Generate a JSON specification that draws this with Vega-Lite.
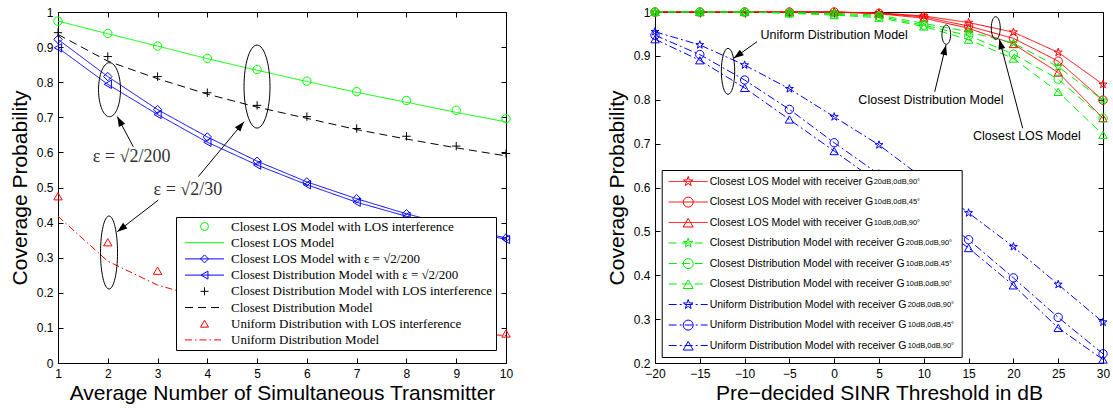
{
"$schema": "https://vega.github.io/schema/vega-lite/v6.json",
"padding": {"left": 8, "top": 5, "right": 0, "bottom": 0},
"spacing": 91,
"background": "white",
"datasets": {
"left": [
{"s":"Closest LOS Model with LOS interference","x":1,"y":0.974},{"s":"Closest LOS Model with LOS interference","x":2,"y":0.939},{"s":"Closest LOS Model with LOS interference","x":3,"y":0.903},{"s":"Closest LOS Model with LOS interference","x":4,"y":0.868},{"s":"Closest LOS Model with LOS interference","x":5,"y":0.836},{"s":"Closest LOS Model with LOS interference","x":6,"y":0.803},{"s":"Closest LOS Model with LOS interference","x":7,"y":0.773},{"s":"Closest LOS Model with LOS interference","x":8,"y":0.748},{"s":"Closest LOS Model with LOS interference","x":9,"y":0.720},{"s":"Closest LOS Model with LOS interference","x":10,"y":0.696},
{"s":"Closest LOS Model","x":1,"y":0.974},{"s":"Closest LOS Model","x":2,"y":0.938},{"s":"Closest LOS Model","x":3,"y":0.903},{"s":"Closest LOS Model","x":4,"y":0.867},{"s":"Closest LOS Model","x":5,"y":0.834},{"s":"Closest LOS Model","x":6,"y":0.802},{"s":"Closest LOS Model","x":7,"y":0.771},{"s":"Closest LOS Model","x":8,"y":0.743},{"s":"Closest LOS Model","x":9,"y":0.714},{"s":"Closest LOS Model","x":10,"y":0.687},
{"s":"Closest LOS Model with ε = √2/200","x":1,"y":0.922},{"s":"Closest LOS Model with ε = √2/200","x":2,"y":0.816},{"s":"Closest LOS Model with ε = √2/200","x":3,"y":0.722},{"s":"Closest LOS Model with ε = √2/200","x":4,"y":0.644},{"s":"Closest LOS Model with ε = √2/200","x":5,"y":0.575},{"s":"Closest LOS Model with ε = √2/200","x":6,"y":0.516},{"s":"Closest LOS Model with ε = √2/200","x":7,"y":0.468},{"s":"Closest LOS Model with ε = √2/200","x":8,"y":0.425},{"s":"Closest LOS Model with ε = √2/200","x":9,"y":0.389},{"s":"Closest LOS Model with ε = √2/200","x":10,"y":0.356},
{"s":"Closest Distribution Model with ε = √2/200","x":1,"y":0.898},{"s":"Closest Distribution Model with ε = √2/200","x":2,"y":0.794},{"s":"Closest Distribution Model with ε = √2/200","x":3,"y":0.708},{"s":"Closest Distribution Model with ε = √2/200","x":4,"y":0.629},{"s":"Closest Distribution Model with ε = √2/200","x":5,"y":0.564},{"s":"Closest Distribution Model with ε = √2/200","x":6,"y":0.508},{"s":"Closest Distribution Model with ε = √2/200","x":7,"y":0.458},{"s":"Closest Distribution Model with ε = √2/200","x":8,"y":0.418},{"s":"Closest Distribution Model with ε = √2/200","x":9,"y":0.384},{"s":"Closest Distribution Model with ε = √2/200","x":10,"y":0.352},
{"s":"Closest Distribution Model with LOS interference","x":1,"y":0.941},{"s":"Closest Distribution Model with LOS interference","x":2,"y":0.873},{"s":"Closest Distribution Model with LOS interference","x":3,"y":0.816},{"s":"Closest Distribution Model with LOS interference","x":4,"y":0.770},{"s":"Closest Distribution Model with LOS interference","x":5,"y":0.734},{"s":"Closest Distribution Model with LOS interference","x":6,"y":0.702},{"s":"Closest Distribution Model with LOS interference","x":7,"y":0.668},{"s":"Closest Distribution Model with LOS interference","x":8,"y":0.646},{"s":"Closest Distribution Model with LOS interference","x":9,"y":0.618},{"s":"Closest Distribution Model with LOS interference","x":10,"y":0.597},
{"s":"Closest Distribution Model","x":1,"y":0.936},{"s":"Closest Distribution Model","x":2,"y":0.860},{"s":"Closest Distribution Model","x":3,"y":0.810},{"s":"Closest Distribution Model","x":4,"y":0.766},{"s":"Closest Distribution Model","x":5,"y":0.729},{"s":"Closest Distribution Model","x":6,"y":0.697},{"s":"Closest Distribution Model","x":7,"y":0.665},{"s":"Closest Distribution Model","x":8,"y":0.638},{"s":"Closest Distribution Model","x":9,"y":0.613},{"s":"Closest Distribution Model","x":10,"y":0.590},
{"s":"Uniform Distribution with LOS interference","x":1,"y":0.475},{"s":"Uniform Distribution with LOS interference","x":2,"y":0.344},{"s":"Uniform Distribution with LOS interference","x":3,"y":0.263},{"s":"Uniform Distribution with LOS interference","x":4,"y":0.215},{"s":"Uniform Distribution with LOS interference","x":5,"y":0.180},{"s":"Uniform Distribution with LOS interference","x":6,"y":0.155},{"s":"Uniform Distribution with LOS interference","x":7,"y":0.135},{"s":"Uniform Distribution with LOS interference","x":8,"y":0.118},{"s":"Uniform Distribution with LOS interference","x":9,"y":0.100},{"s":"Uniform Distribution with LOS interference","x":10,"y":0.084},
{"s":"Uniform Distribution Model","x":1,"y":0.418},{"s":"Uniform Distribution Model","x":2,"y":0.290},{"s":"Uniform Distribution Model","x":3,"y":0.222},{"s":"Uniform Distribution Model","x":4,"y":0.182},{"s":"Uniform Distribution Model","x":5,"y":0.152},{"s":"Uniform Distribution Model","x":6,"y":0.130},{"s":"Uniform Distribution Model","x":7,"y":0.113},{"s":"Uniform Distribution Model","x":8,"y":0.100},{"s":"Uniform Distribution Model","x":9,"y":0.088},{"s":"Uniform Distribution Model","x":10,"y":0.078}
],
"right": [
{"s":"Closest LOS Model with receiver G|20dB,0dB,90°","x":-20,"y":1},{"s":"Closest LOS Model with receiver G|20dB,0dB,90°","x":-15,"y":1},{"s":"Closest LOS Model with receiver G|20dB,0dB,90°","x":-10,"y":1},{"s":"Closest LOS Model with receiver G|20dB,0dB,90°","x":-5,"y":1},{"s":"Closest LOS Model with receiver G|20dB,0dB,90°","x":0,"y":1},{"s":"Closest LOS Model with receiver G|20dB,0dB,90°","x":5,"y":0.998},{"s":"Closest LOS Model with receiver G|20dB,0dB,90°","x":10,"y":0.991},{"s":"Closest LOS Model with receiver G|20dB,0dB,90°","x":15,"y":0.976},{"s":"Closest LOS Model with receiver G|20dB,0dB,90°","x":20,"y":0.954},{"s":"Closest LOS Model with receiver G|20dB,0dB,90°","x":25,"y":0.908},{"s":"Closest LOS Model with receiver G|20dB,0dB,90°","x":30,"y":0.835},
{"s":"Closest LOS Model with receiver G|10dB,0dB,45°","x":-20,"y":1},{"s":"Closest LOS Model with receiver G|10dB,0dB,45°","x":-15,"y":1},{"s":"Closest LOS Model with receiver G|10dB,0dB,45°","x":-10,"y":1},{"s":"Closest LOS Model with receiver G|10dB,0dB,45°","x":-5,"y":1},{"s":"Closest LOS Model with receiver G|10dB,0dB,45°","x":0,"y":1},{"s":"Closest LOS Model with receiver G|10dB,0dB,45°","x":5,"y":0.997},{"s":"Closest LOS Model with receiver G|10dB,0dB,45°","x":10,"y":0.989},{"s":"Closest LOS Model with receiver G|10dB,0dB,45°","x":15,"y":0.968},{"s":"Closest LOS Model with receiver G|10dB,0dB,45°","x":20,"y":0.940},{"s":"Closest LOS Model with receiver G|10dB,0dB,45°","x":25,"y":0.888},{"s":"Closest LOS Model with receiver G|10dB,0dB,45°","x":30,"y":0.799},
{"s":"Closest LOS Model with receiver G|10dB,0dB,90°","x":-20,"y":1},{"s":"Closest LOS Model with receiver G|10dB,0dB,90°","x":-15,"y":1},{"s":"Closest LOS Model with receiver G|10dB,0dB,90°","x":-10,"y":1},{"s":"Closest LOS Model with receiver G|10dB,0dB,90°","x":-5,"y":1},{"s":"Closest LOS Model with receiver G|10dB,0dB,90°","x":0,"y":1},{"s":"Closest LOS Model with receiver G|10dB,0dB,90°","x":5,"y":0.996},{"s":"Closest LOS Model with receiver G|10dB,0dB,90°","x":10,"y":0.986},{"s":"Closest LOS Model with receiver G|10dB,0dB,90°","x":15,"y":0.963},{"s":"Closest LOS Model with receiver G|10dB,0dB,90°","x":20,"y":0.927},{"s":"Closest LOS Model with receiver G|10dB,0dB,90°","x":25,"y":0.862},{"s":"Closest LOS Model with receiver G|10dB,0dB,90°","x":30,"y":0.758},
{"s":"Closest Distribution Model with receiver G|20dB,0dB,90°","x":-20,"y":1},{"s":"Closest Distribution Model with receiver G|20dB,0dB,90°","x":-15,"y":1},{"s":"Closest Distribution Model with receiver G|20dB,0dB,90°","x":-10,"y":1},{"s":"Closest Distribution Model with receiver G|20dB,0dB,90°","x":-5,"y":0.999},{"s":"Closest Distribution Model with receiver G|20dB,0dB,90°","x":0,"y":0.997},{"s":"Closest Distribution Model with receiver G|20dB,0dB,90°","x":5,"y":0.993},{"s":"Closest Distribution Model with receiver G|20dB,0dB,90°","x":10,"y":0.974},{"s":"Closest Distribution Model with receiver G|20dB,0dB,90°","x":15,"y":0.955},{"s":"Closest Distribution Model with receiver G|20dB,0dB,90°","x":20,"y":0.929},{"s":"Closest Distribution Model with receiver G|20dB,0dB,90°","x":25,"y":0.875},{"s":"Closest Distribution Model with receiver G|20dB,0dB,90°","x":30,"y":0.799},
{"s":"Closest Distribution Model with receiver G|10dB,0dB,45°","x":-20,"y":1},{"s":"Closest Distribution Model with receiver G|10dB,0dB,45°","x":-15,"y":1},{"s":"Closest Distribution Model with receiver G|10dB,0dB,45°","x":-10,"y":1},{"s":"Closest Distribution Model with receiver G|10dB,0dB,45°","x":-5,"y":0.998},{"s":"Closest Distribution Model with receiver G|10dB,0dB,45°","x":0,"y":0.995},{"s":"Closest Distribution Model with receiver G|10dB,0dB,45°","x":5,"y":0.990},{"s":"Closest Distribution Model with receiver G|10dB,0dB,45°","x":10,"y":0.970},{"s":"Closest Distribution Model with receiver G|10dB,0dB,45°","x":15,"y":0.946},{"s":"Closest Distribution Model with receiver G|10dB,0dB,45°","x":20,"y":0.904},{"s":"Closest Distribution Model with receiver G|10dB,0dB,45°","x":25,"y":0.847},{"s":"Closest Distribution Model with receiver G|10dB,0dB,45°","x":30,"y":0.758},
{"s":"Closest Distribution Model with receiver G|10dB,0dB,90°","x":-20,"y":1},{"s":"Closest Distribution Model with receiver G|10dB,0dB,90°","x":-15,"y":1},{"s":"Closest Distribution Model with receiver G|10dB,0dB,90°","x":-10,"y":1},{"s":"Closest Distribution Model with receiver G|10dB,0dB,90°","x":-5,"y":0.997},{"s":"Closest Distribution Model with receiver G|10dB,0dB,90°","x":0,"y":0.993},{"s":"Closest Distribution Model with receiver G|10dB,0dB,90°","x":5,"y":0.987},{"s":"Closest Distribution Model with receiver G|10dB,0dB,90°","x":10,"y":0.967},{"s":"Closest Distribution Model with receiver G|10dB,0dB,90°","x":15,"y":0.937},{"s":"Closest Distribution Model with receiver G|10dB,0dB,90°","x":20,"y":0.894},{"s":"Closest Distribution Model with receiver G|10dB,0dB,90°","x":25,"y":0.818},{"s":"Closest Distribution Model with receiver G|10dB,0dB,90°","x":30,"y":0.720},
{"s":"Uniform Distribution Model with receiver G|20dB,0dB,90°","x":-20,"y":0.955},{"s":"Uniform Distribution Model with receiver G|20dB,0dB,90°","x":-15,"y":0.925},{"s":"Uniform Distribution Model with receiver G|20dB,0dB,90°","x":-10,"y":0.879},{"s":"Uniform Distribution Model with receiver G|20dB,0dB,90°","x":-5,"y":0.825},{"s":"Uniform Distribution Model with receiver G|20dB,0dB,90°","x":0,"y":0.761},{"s":"Uniform Distribution Model with receiver G|20dB,0dB,90°","x":5,"y":0.697},{"s":"Uniform Distribution Model with receiver G|20dB,0dB,90°","x":10,"y":0.620},{"s":"Uniform Distribution Model with receiver G|20dB,0dB,90°","x":15,"y":0.542},{"s":"Uniform Distribution Model with receiver G|20dB,0dB,90°","x":20,"y":0.465},{"s":"Uniform Distribution Model with receiver G|20dB,0dB,90°","x":25,"y":0.379},{"s":"Uniform Distribution Model with receiver G|20dB,0dB,90°","x":30,"y":0.293},
{"s":"Uniform Distribution Model with receiver G|10dB,0dB,45°","x":-20,"y":0.947},{"s":"Uniform Distribution Model with receiver G|10dB,0dB,45°","x":-15,"y":0.903},{"s":"Uniform Distribution Model with receiver G|10dB,0dB,45°","x":-10,"y":0.845},{"s":"Uniform Distribution Model with receiver G|10dB,0dB,45°","x":-5,"y":0.778},{"s":"Uniform Distribution Model with receiver G|10dB,0dB,45°","x":0,"y":0.702},{"s":"Uniform Distribution Model with receiver G|10dB,0dB,45°","x":5,"y":0.630},{"s":"Uniform Distribution Model with receiver G|10dB,0dB,45°","x":10,"y":0.555},{"s":"Uniform Distribution Model with receiver G|10dB,0dB,45°","x":15,"y":0.481},{"s":"Uniform Distribution Model with receiver G|10dB,0dB,45°","x":20,"y":0.394},{"s":"Uniform Distribution Model with receiver G|10dB,0dB,45°","x":25,"y":0.304},{"s":"Uniform Distribution Model with receiver G|10dB,0dB,45°","x":30,"y":0.221},
{"s":"Uniform Distribution Model with receiver G|10dB,0dB,90°","x":-20,"y":0.938},{"s":"Uniform Distribution Model with receiver G|10dB,0dB,90°","x":-15,"y":0.890},{"s":"Uniform Distribution Model with receiver G|10dB,0dB,90°","x":-10,"y":0.827},{"s":"Uniform Distribution Model with receiver G|10dB,0dB,90°","x":-5,"y":0.755},{"s":"Uniform Distribution Model with receiver G|10dB,0dB,90°","x":0,"y":0.683},{"s":"Uniform Distribution Model with receiver G|10dB,0dB,90°","x":5,"y":0.610},{"s":"Uniform Distribution Model with receiver G|10dB,0dB,90°","x":10,"y":0.535},{"s":"Uniform Distribution Model with receiver G|10dB,0dB,90°","x":15,"y":0.462},{"s":"Uniform Distribution Model with receiver G|10dB,0dB,90°","x":20,"y":0.377},{"s":"Uniform Distribution Model with receiver G|10dB,0dB,90°","x":25,"y":0.280},{"s":"Uniform Distribution Model with receiver G|10dB,0dB,90°","x":30,"y":0.208}
]
},
"hconcat": [
{
"width": 448, "height": 351,
"resolve": {"scale": {"stroke": "independent", "strokeDash": "independent", "shape": "independent"}, "axis": {"x": "independent", "y": "independent"}},
"layer": [
{
"data": {"name": "left"},
"transform": [{"filter": {"field": "s", "oneOf": ["Closest LOS Model", "Closest LOS Model with ε = √2/200", "Closest Distribution Model with ε = √2/200", "Closest Distribution Model", "Uniform Distribution Model"]}}],
"mark": {"type": "line", "strokeWidth": 1},
"encoding": {
"x": {"field": "x", "type": "quantitative", "scale": {"domain": [1, 10], "nice": false, "zero": false}, "axis": {"orient": "bottom", "values": [1,2,3,4,5,6,7,8,9,10], "title": "Average Number of Simultaneous Transmitter"}},
"y": {"field": "y", "type": "quantitative", "scale": {"domain": [0, 1], "nice": false, "zero": false}, "axis": {"orient": "left", "values": [0,0.1,0.2,0.3,0.4,0.5,0.6,0.7,0.8,0.9,1], "format": "~g", "title": "Coverage Probability"}},
"stroke": {"field": "s", "type": "nominal",
"scale": {"domain": ["Closest LOS Model with LOS interference", "Closest LOS Model", "Closest LOS Model with ε = √2/200", "Closest Distribution Model with ε = √2/200", "Closest Distribution Model with LOS interference", "Closest Distribution Model", "Uniform Distribution with LOS interference", "Uniform Distribution Model"], "range": ["transparent", "#00ff00", "#0000ff", "#0000ff", "transparent", "#000000", "transparent", "#ff0000"]},
"legend": {"orient": "none", "legendX": 118, "legendY": 205, "title": null, "symbolType": "M-4.875,0H4.875", "symbolSize": 64, "symbolStrokeWidth": 1, "symbolOffset": 19, "labelOffset": 20, "labelFont": "Liberation Serif", "labelFontSize": 13, "labelColor": "#000000", "labelLimit": 500, "rowPadding": 2.2, "padding": 3, "fillColor": "#ffffff", "strokeColor": "#000000"}},
"strokeDash": {"field": "s", "type": "nominal",
"scale": {"domain": ["Closest LOS Model with LOS interference", "Closest LOS Model", "Closest LOS Model with ε = √2/200", "Closest Distribution Model with ε = √2/200", "Closest Distribution Model with LOS interference", "Closest Distribution Model", "Uniform Distribution with LOS interference", "Uniform Distribution Model"], "range": [[1,0],[1,0],[1,0],[1,0],[1,0],[8,5],[1,0],[7,3,1.5,3]]},
"legend": {"orient": "none", "legendX": 118, "legendY": 205, "title": null, "symbolType": "M-4.875,0H4.875", "symbolSize": 64, "symbolStrokeWidth": 1, "symbolOffset": 19, "labelOffset": 20, "labelFont": "Liberation Serif", "labelFontSize": 13, "labelColor": "#000000", "labelLimit": 500, "rowPadding": 2.2, "padding": 3, "fillColor": "#ffffff", "strokeColor": "#000000"}}
}
},
{
"data": {"name": "left"},
"transform": [{"filter": {"field": "s", "oneOf": ["Closest LOS Model with LOS interference", "Closest LOS Model with ε = √2/200", "Closest Distribution Model with ε = √2/200", "Closest Distribution Model with LOS interference", "Uniform Distribution with LOS interference"]}}],
"mark": {"type": "point", "filled": false, "size": 70, "strokeWidth": 1, "opacity": 1},
"encoding": {
"x": {"field": "x", "type": "quantitative", "axis": {"orient": "top", "values": [1,2,3,4,5,6,7,8,9,10], "labels": false, "title": null}},
"y": {"field": "y", "type": "quantitative", "axis": {"orient": "right", "values": [0,0.1,0.2,0.3,0.4,0.5,0.6,0.7,0.8,0.9,1], "labels": false, "title": null}},
"shape": {"field": "s", "type": "nominal",
"scale": {"domain": ["Closest LOS Model with LOS interference", "Closest LOS Model", "Closest LOS Model with ε = √2/200", "Closest Distribution Model with ε = √2/200", "Closest Distribution Model with LOS interference", "Closest Distribution Model", "Uniform Distribution with LOS interference", "Uniform Distribution Model"], "range": ["circle", "circle", "diamond", "triangle-left", "M-1,0H1M0,-1V1", "circle", "triangle-up", "circle"]},
"legend": {"orient": "none", "legendX": 118, "legendY": 205, "title": null, "symbolSize": 64, "symbolStrokeWidth": 1, "symbolOffset": 19, "labelOffset": 20, "labelFont": "Liberation Serif", "labelFontSize": 13, "labelColor": "transparent", "labelLimit": 500, "rowPadding": 2.2, "padding": 3, "encode": {"symbols": {"fill": {"value": "transparent"}}}}},
"stroke": {"field": "s", "type": "nominal",
"scale": {"domain": ["Closest LOS Model with LOS interference", "Closest LOS Model", "Closest LOS Model with ε = √2/200", "Closest Distribution Model with ε = √2/200", "Closest Distribution Model with LOS interference", "Closest Distribution Model", "Uniform Distribution with LOS interference", "Uniform Distribution Model"], "range": ["#00ff00", "transparent", "#0000ff", "#0000ff", "#000000", "transparent", "#ff0000", "transparent"]},
"legend": {"orient": "none", "legendX": 118, "legendY": 205, "title": null, "symbolSize": 64, "symbolStrokeWidth": 1, "symbolOffset": 19, "labelOffset": 20, "labelFont": "Liberation Serif", "labelFontSize": 13, "labelColor": "transparent", "labelLimit": 500, "rowPadding": 2.2, "padding": 3, "encode": {"symbols": {"fill": {"value": "transparent"}}}}}
}
},
{
"data": {"values": [{"x": 2.035, "y": 0.7786}]},
"mark": {"type": "point", "shape": "M0.407,0C0.407,0.552 0.225,1 0,1C-0.225,1 -0.407,0.552 -0.407,0C-0.407,-0.552 -0.225,-1 0,-1C0.225,-1 0.407,-0.552 0.407,0Z", "size": 2916, "filled": false, "stroke": "#000000", "strokeWidth": 1, "opacity": 1},
"encoding": {"x": {"field": "x", "type": "quantitative", "axis": null}, "y": {"field": "y", "type": "quantitative", "axis": null}}
},
{
"data": {"values": [{"x": 4.998, "y": 0.7875}]},
"mark": {"type": "point", "shape": "M0.313,0C0.313,0.552 0.173,1 0,1C-0.173,1 -0.313,0.552 -0.313,0C-0.313,-0.552 -0.173,-1 0,-1C0.173,-1 0.313,-0.552 0.313,0Z", "size": 6889, "filled": false, "stroke": "#000000", "strokeWidth": 1, "opacity": 1},
"encoding": {"x": {"field": "x", "type": "quantitative", "axis": null}, "y": {"field": "y", "type": "quantitative", "axis": null}}
},
{
"data": {"values": [{"x": 2.025, "y": 0.3148}]},
"mark": {"type": "point", "shape": "M0.233,0C0.233,0.552 0.129,1 0,1C-0.129,1 -0.233,0.552 -0.233,0C-0.233,-0.552 -0.129,-1 0,-1C0.129,-1 0.233,-0.552 0.233,0Z", "size": 5329, "filled": false, "stroke": "#000000", "strokeWidth": 1, "opacity": 1},
"encoding": {"x": {"field": "x", "type": "quantitative", "axis": null}, "y": {"field": "y", "type": "quantitative", "axis": null}}
},
{
"data": {"values": [{"x": 2.513, "y": 0.616, "x2": 2.191, "y2": 0.702}, {"x": 3.818, "y": 0.531, "x2": 4.737, "y2": 0.6875}, {"x": 3.015, "y": 0.464, "x2": 2.191, "y2": 0.374}]},
"mark": {"type": "rule", "stroke": "#000000", "strokeWidth": 1},
"encoding": {"x": {"field": "x", "type": "quantitative", "axis": null}, "y": {"field": "y", "type": "quantitative", "axis": null}, "x2": {"field": "x2"}, "y2": {"field": "y2"}}
},
{
"data": {"values": [{"x": 2.191, "y": 0.702}]},
"mark": {"type": "point", "shape": "M0,0L-0.35,1L0.35,1Z", "size": 400, "filled": true, "color": "#000000", "opacity": 1, "angle": -28},
"encoding": {"x": {"field": "x", "type": "quantitative", "axis": null}, "y": {"field": "y", "type": "quantitative", "axis": null}}
},
{
"data": {"values": [{"x": 4.737, "y": 0.6875}]},
"mark": {"type": "point", "shape": "M0,0L-0.35,1L0.35,1Z", "size": 400, "filled": true, "color": "#000000", "opacity": 1, "angle": 39.7},
"encoding": {"x": {"field": "x", "type": "quantitative", "axis": null}, "y": {"field": "y", "type": "quantitative", "axis": null}}
},
{
"data": {"values": [{"x": 2.191, "y": 0.374}]},
"mark": {"type": "point", "shape": "M0,0L-0.35,1L0.35,1Z", "size": 400, "filled": true, "color": "#000000", "opacity": 1, "angle": -127.7},
"encoding": {"x": {"field": "x", "type": "quantitative", "axis": null}, "y": {"field": "y", "type": "quantitative", "axis": null}}
},
{
"data": {"values": [{"x": 2.48, "y": 0.588, "t": "ε = √2/200"}, {"x": 3.61, "y": 0.493, "t": "ε = √2/30"}]},
"mark": {"type": "text", "font": "Liberation Serif", "fontSize": 18, "color": "#333333", "align": "center", "baseline": "middle"},
"encoding": {"x": {"field": "x", "type": "quantitative", "axis": null}, "y": {"field": "y", "type": "quantitative", "axis": null}, "text": {"field": "t"}}
}
]
},
{
"width": 448, "height": 351,
"resolve": {"scale": {"stroke": "independent", "strokeDash": "independent", "shape": "independent"}, "axis": {"x": "independent", "y": "independent"}},
"layer": [
{
"data": {"name": "right"},
"mark": {"type": "line", "strokeWidth": 1},
"encoding": {
"x": {"field": "x", "type": "quantitative", "scale": {"domain": [-20, 30], "nice": false, "zero": false}, "axis": {"orient": "bottom", "values": [-20,-15,-10,-5,0,5,10,15,20,25,30], "title": "Pre−decided SINR Threshold in dB"}},
"y": {"field": "y", "type": "quantitative", "scale": {"domain": [0.2, 1], "nice": false, "zero": false}, "axis": {"orient": "left", "values": [0.2,0.3,0.4,0.5,0.6,0.7,0.8,0.9,1], "format": "~g", "title": "Coverage Probability"}},
"stroke": {"field": "s", "type": "nominal",
"scale": {"domain": ["Closest LOS Model with receiver G|20dB,0dB,90°", "Closest LOS Model with receiver G|10dB,0dB,45°", "Closest LOS Model with receiver G|10dB,0dB,90°", "Closest Distribution Model with receiver G|20dB,0dB,90°", "Closest Distribution Model with receiver G|10dB,0dB,45°", "Closest Distribution Model with receiver G|10dB,0dB,90°", "Uniform Distribution Model with receiver G|20dB,0dB,90°", "Uniform Distribution Model with receiver G|10dB,0dB,45°", "Uniform Distribution Model with receiver G|10dB,0dB,90°"], "range": ["#ff0000", "#ff0000", "#ff0000", "#00ee00", "#00ee00", "#00ee00", "#0000ff", "#0000ff", "#0000ff"]},
"legend": {"orient": "none", "legendX": 6.7, "legendY": 158, "title": null, "symbolType": "M-3.9,0H3.9M53,0", "symbolSize": 100, "symbolStrokeWidth": 1, "symbolOffset": 15, "labelOffset": 16, "labelFont": "Liberation Sans", "labelFontSize": 10.5, "labelColor": "#000000", "labelLimit": 600, "labelExpr": "split(datum.label,'|')[0]", "rowPadding": 9.5, "padding": 6, "fillColor": "#ffffff", "strokeColor": "#000000"}},
"strokeDash": {"field": "s", "type": "nominal",
"scale": {"domain": ["Closest LOS Model with receiver G|20dB,0dB,90°", "Closest LOS Model with receiver G|10dB,0dB,45°", "Closest LOS Model with receiver G|10dB,0dB,90°", "Closest Distribution Model with receiver G|20dB,0dB,90°", "Closest Distribution Model with receiver G|10dB,0dB,45°", "Closest Distribution Model with receiver G|10dB,0dB,90°", "Uniform Distribution Model with receiver G|20dB,0dB,90°", "Uniform Distribution Model with receiver G|10dB,0dB,45°", "Uniform Distribution Model with receiver G|10dB,0dB,90°"], "range": [[1,0],[1,0],[1,0],[8,5],[8,5],[8,5],[8,3,2,3],[8,3,2,3],[8,3,2,3]]},
"legend": {"orient": "none", "legendX": 6.7, "legendY": 158, "title": null, "symbolType": "M-3.9,0H3.9M53,0", "symbolSize": 100, "symbolStrokeWidth": 1, "symbolOffset": 15, "labelOffset": 16, "labelFont": "Liberation Sans", "labelFontSize": 10.5, "labelColor": "#000000", "labelLimit": 600, "labelExpr": "split(datum.label,'|')[0]", "rowPadding": 9.5, "padding": 6, "fillColor": "#ffffff", "strokeColor": "#000000"}}
}
},
{
"data": {"name": "right"},
"transform": [{"filter": {"field": "s", "oneOf": ["Closest LOS Model with receiver G|20dB,0dB,90°", "Closest LOS Model with receiver G|10dB,0dB,45°", "Closest LOS Model with receiver G|10dB,0dB,90°"]}}],
"mark": {"type": "point", "filled": false, "size": 70, "strokeWidth": 1, "opacity": 1},
"encoding": {
"x": {"field": "x", "type": "quantitative", "axis": {"orient": "top", "values": [-20,-15,-10,-5,0,5,10,15,20,25,30], "labels": false, "title": null}},
"y": {"field": "y", "type": "quantitative", "axis": {"orient": "right", "values": [0.2,0.3,0.4,0.5,0.6,0.7,0.8,0.9,1], "labels": false, "title": null}},
"shape": {"field": "s", "type": "nominal",
"scale": {"domain": ["Closest LOS Model with receiver G|20dB,0dB,90°", "Closest LOS Model with receiver G|10dB,0dB,45°", "Closest LOS Model with receiver G|10dB,0dB,90°"], "range": ["M0,-1L0.2245,-0.309L0.9511,-0.309L0.3633,0.118L0.5878,0.809L0,0.382L-0.5878,0.809L-0.3633,0.118L-0.9511,-0.309L-0.2245,-0.309Z", "circle", "triangle-up"]},
"legend": {"orient": "none", "legendX": 6.7, "legendY": 158, "title": null, "symbolSize": 100, "symbolStrokeWidth": 1, "symbolOffset": 15, "labelOffset": 180, "labelFont": "Liberation Sans", "labelFontSize": 7.5, "labelColor": "#000000", "labelLimit": 600, "labelExpr": "split(datum.label,'|')[1]", "rowPadding": 6.6, "padding": 6, "encode": {"symbols": {"fill": {"value": "transparent"}}, "labels": {"dy": {"value": 5}}}}},
"stroke": {"field": "s", "type": "nominal",
"scale": {"domain": ["Closest LOS Model with receiver G|20dB,0dB,90°", "Closest LOS Model with receiver G|10dB,0dB,45°", "Closest LOS Model with receiver G|10dB,0dB,90°"], "range": ["#ff0000", "#ff0000", "#ff0000"]},
"legend": {"orient": "none", "legendX": 6.7, "legendY": 158, "title": null, "symbolSize": 100, "symbolStrokeWidth": 1, "symbolOffset": 15, "labelOffset": 180, "labelFont": "Liberation Sans", "labelFontSize": 7.5, "labelColor": "#000000", "labelLimit": 600, "labelExpr": "split(datum.label,'|')[1]", "rowPadding": 6.6, "padding": 6, "encode": {"symbols": {"fill": {"value": "transparent"}}, "labels": {"dy": {"value": 5}}}}}
}
},
{
"data": {"name": "right"},
"transform": [{"filter": {"field": "s", "oneOf": ["Closest Distribution Model with receiver G|20dB,0dB,90°", "Closest Distribution Model with receiver G|10dB,0dB,45°", "Closest Distribution Model with receiver G|10dB,0dB,90°"]}}],
"mark": {"type": "point", "filled": false, "size": 70, "strokeWidth": 1, "opacity": 1},
"encoding": {
"x": {"field": "x", "type": "quantitative", "axis": null},
"y": {"field": "y", "type": "quantitative", "axis": null},
"shape": {"field": "s", "type": "nominal",
"scale": {"domain": ["Closest Distribution Model with receiver G|20dB,0dB,90°", "Closest Distribution Model with receiver G|10dB,0dB,45°", "Closest Distribution Model with receiver G|10dB,0dB,90°"], "range": ["M0,-1L0.2245,-0.309L0.9511,-0.309L0.3633,0.118L0.5878,0.809L0,0.382L-0.5878,0.809L-0.3633,0.118L-0.9511,-0.309L-0.2245,-0.309Z", "circle", "triangle-up"]},
"legend": {"orient": "none", "legendX": 6.7, "legendY": 219.5, "title": null, "symbolSize": 100, "symbolStrokeWidth": 1, "symbolOffset": 15, "labelOffset": 212, "labelFont": "Liberation Sans", "labelFontSize": 7.5, "labelColor": "#000000", "labelLimit": 600, "labelExpr": "split(datum.label,'|')[1]", "rowPadding": 6.6, "padding": 6, "encode": {"symbols": {"fill": {"value": "transparent"}}, "labels": {"dy": {"value": 5}}}}},
"stroke": {"field": "s", "type": "nominal",
"scale": {"domain": ["Closest Distribution Model with receiver G|20dB,0dB,90°", "Closest Distribution Model with receiver G|10dB,0dB,45°", "Closest Distribution Model with receiver G|10dB,0dB,90°"], "range": ["#00ee00", "#00ee00", "#00ee00"]},
"legend": {"orient": "none", "legendX": 6.7, "legendY": 219.5, "title": null, "symbolSize": 100, "symbolStrokeWidth": 1, "symbolOffset": 15, "labelOffset": 212, "labelFont": "Liberation Sans", "labelFontSize": 7.5, "labelColor": "#000000", "labelLimit": 600, "labelExpr": "split(datum.label,'|')[1]", "rowPadding": 6.6, "padding": 6, "encode": {"symbols": {"fill": {"value": "transparent"}}, "labels": {"dy": {"value": 5}}}}}
}
},
{
"data": {"name": "right"},
"transform": [{"filter": {"field": "s", "oneOf": ["Uniform Distribution Model with receiver G|20dB,0dB,90°", "Uniform Distribution Model with receiver G|10dB,0dB,45°", "Uniform Distribution Model with receiver G|10dB,0dB,90°"]}}],
"mark": {"type": "point", "filled": false, "size": 70, "strokeWidth": 1, "opacity": 1},
"encoding": {
"x": {"field": "x", "type": "quantitative", "axis": null},
"y": {"field": "y", "type": "quantitative", "axis": null},
"shape": {"field": "s", "type": "nominal",
"scale": {"domain": ["Uniform Distribution Model with receiver G|20dB,0dB,90°", "Uniform Distribution Model with receiver G|10dB,0dB,45°", "Uniform Distribution Model with receiver G|10dB,0dB,90°"], "range": ["M0,-1L0.2245,-0.309L0.9511,-0.309L0.3633,0.118L0.5878,0.809L0,0.382L-0.5878,0.809L-0.3633,0.118L-0.9511,-0.309L-0.2245,-0.309Z", "circle", "triangle-up"]},
"legend": {"orient": "none", "legendX": 6.7, "legendY": 281, "title": null, "symbolSize": 100, "symbolStrokeWidth": 1, "symbolOffset": 15, "labelOffset": 214, "labelFont": "Liberation Sans", "labelFontSize": 7.5, "labelColor": "#000000", "labelLimit": 600, "labelExpr": "split(datum.label,'|')[1]", "rowPadding": 6.6, "padding": 6, "encode": {"symbols": {"fill": {"value": "transparent"}}, "labels": {"dy": {"value": 5}}}}},
"stroke": {"field": "s", "type": "nominal",
"scale": {"domain": ["Uniform Distribution Model with receiver G|20dB,0dB,90°", "Uniform Distribution Model with receiver G|10dB,0dB,45°", "Uniform Distribution Model with receiver G|10dB,0dB,90°"], "range": ["#0000ff", "#0000ff", "#0000ff"]},
"legend": {"orient": "none", "legendX": 6.7, "legendY": 281, "title": null, "symbolSize": 100, "symbolStrokeWidth": 1, "symbolOffset": 15, "labelOffset": 214, "labelFont": "Liberation Sans", "labelFontSize": 7.5, "labelColor": "#000000", "labelLimit": 600, "labelExpr": "split(datum.label,'|')[1]", "rowPadding": 6.6, "padding": 6, "encode": {"symbols": {"fill": {"value": "transparent"}}, "labels": {"dy": {"value": 5}}}}}
}
},
{
"data": {"values": [{"x": -11.85, "y": 0.8648}]},
"mark": {"type": "point", "shape": "M0.291,0C0.291,0.552 0.161,1 0,1C-0.161,1 -0.291,0.552 -0.291,0C-0.291,-0.552 -0.161,-1 0,-1C0.161,-1 0.291,-0.552 0.291,0Z", "size": 2116, "filled": false, "stroke": "#000000", "strokeWidth": 1, "opacity": 1},
"encoding": {"x": {"field": "x", "type": "quantitative", "axis": null}, "y": {"field": "y", "type": "quantitative", "axis": null}}
},
{
"data": {"values": [{"x": 12.51, "y": 0.9483}]},
"mark": {"type": "point", "shape": "M0.451,0C0.451,0.552 0.249,1 0,1C-0.249,1 -0.451,0.552 -0.451,0C-0.451,-0.552 -0.249,-1 0,-1C0.249,-1 0.451,-0.552 0.451,0Z", "size": 372, "filled": false, "stroke": "#000000", "strokeWidth": 1, "opacity": 1},
"encoding": {"x": {"field": "x", "type": "quantitative", "axis": null}, "y": {"field": "y", "type": "quantitative", "axis": null}}
},
{
"data": {"values": [{"x": 18.03, "y": 0.9635}]},
"mark": {"type": "point", "shape": "M0.396,0C0.396,0.552 0.219,1 0,1C-0.219,1 -0.396,0.552 -0.396,0C-0.396,-0.552 -0.219,-1 0,-1C0.219,-1 0.396,-0.552 0.396,0Z", "size": 515, "filled": false, "stroke": "#000000", "strokeWidth": 1, "opacity": 1},
"encoding": {"x": {"field": "x", "type": "quantitative", "axis": null}, "y": {"field": "y", "type": "quantitative", "axis": null}}
},
{
"data": {"values": [{"x": -8.616, "y": 0.9323, "x2": -11.217, "y2": 0.8945}, {"x": 11.217, "y": 0.8183, "x2": 12.478, "y2": 0.9248}, {"x": 21.04, "y": 0.735, "x2": 18.43, "y2": 0.9378}]},
"mark": {"type": "rule", "stroke": "#000000", "strokeWidth": 1},
"encoding": {"x": {"field": "x", "type": "quantitative", "axis": null}, "y": {"field": "y", "type": "quantitative", "axis": null}, "x2": {"field": "x2"}, "y2": {"field": "y2"}}
},
{
"data": {"values": [{"x": -11.217, "y": 0.8945}]},
"mark": {"type": "point", "shape": "M0,0L-0.35,1L0.35,1Z", "size": 400, "filled": true, "color": "#000000", "opacity": 1, "angle": -125.5},
"encoding": {"x": {"field": "x", "type": "quantitative", "axis": null}, "y": {"field": "y", "type": "quantitative", "axis": null}}
},
{
"data": {"values": [{"x": 12.478, "y": 0.9248}]},
"mark": {"type": "point", "shape": "M0,0L-0.35,1L0.35,1Z", "size": 400, "filled": true, "color": "#000000", "opacity": 1, "angle": 13.6},
"encoding": {"x": {"field": "x", "type": "quantitative", "axis": null}, "y": {"field": "y", "type": "quantitative", "axis": null}}
},
{
"data": {"values": [{"x": 18.43, "y": 0.9378}]},
"mark": {"type": "point", "shape": "M0,0L-0.35,1L0.35,1Z", "size": 400, "filled": true, "color": "#000000", "opacity": 1, "angle": -14.7},
"encoding": {"x": {"field": "x", "type": "quantitative", "axis": null}, "y": {"field": "y", "type": "quantitative", "axis": null}}
},
{
"data": {"values": [{"x": 0, "y": 0.9476, "t": "Uniform Distribution Model"}, {"x": 10.8, "y": 0.799, "t": "Closest Distribution Model"}, {"x": 21.5, "y": 0.717, "t": "Closest LOS Model"}]},
"mark": {"type": "text", "font": "Liberation Sans", "fontSize": 12.5, "color": "#000000", "align": "center", "baseline": "middle"},
"encoding": {"x": {"field": "x", "type": "quantitative", "axis": null}, "y": {"field": "y", "type": "quantitative", "axis": null}, "text": {"field": "t"}}
}
]
}
],
"config": {
"view": {"stroke": "#000000", "strokeWidth": 1},
"axis": {"grid": false, "domain": false, "tickSize": -5, "tickColor": "#000000", "tickWidth": 1, "labelFont": "Liberation Sans", "labelFontSize": 12, "labelColor": "#000000", "labelPadding": 10, "labelFlush": false, "labelOverlap": false, "titleFont": "Liberation Sans", "titleFontSize": 21, "titleFontWeight": "normal", "titleColor": "#000000"},
"axisX": {"titlePadding": 3},
"axisY": {"titlePadding": 6}
}
}
